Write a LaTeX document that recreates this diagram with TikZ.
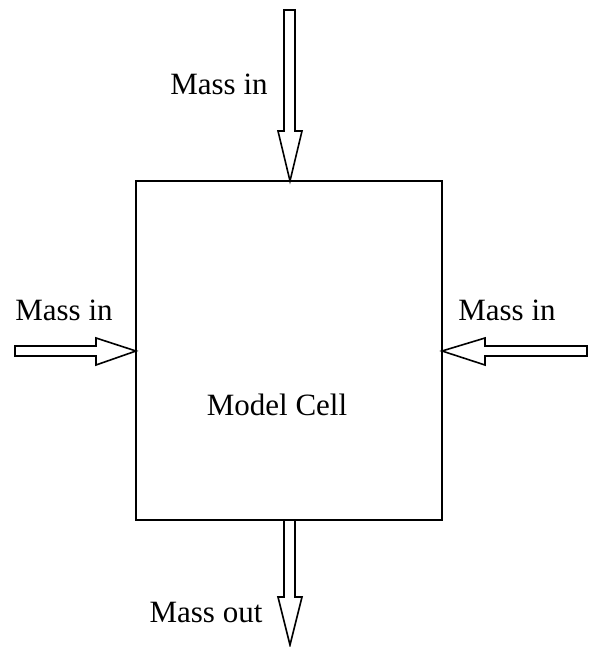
\documentclass[tikz,border=0pt]{standalone}
\usepackage{fontspec}
\setmainfont{Liberation Serif}
\usetikzlibrary{calc}
\begin{document}
\begin{tikzpicture}[x=0.5pt,y=-0.5pt,
  cellbox/.style={draw, line width=1pt, minimum width=153pt, minimum height=169.5pt, inner sep=0pt},
  fatarrow/.style={draw, line width=0.8pt, line join=miter, fill=white},
  lbl/.style={font=\fontsize{15.5}{18}\selectfont, anchor=base, inner sep=0pt}]
\useasboundingbox (0,0) rectangle (589,647);
\node[cellbox] (cell) at (289,350.5) {};
\node[lbl] (title) at (277,415) {Model Cell};
% top arrow
\coordinate (ttip) at (290,181);
\draw[fatarrow] (ttip) -- (278,131) -- (284,131) -- (284,10) -- (295,10) -- (295,131) -- (302,131) -- cycle;
\node[lbl] (tin) at (219,95) {Mass in};
% left arrow
\coordinate (ltip) at (136,351);
\draw[fatarrow] (ltip) -- (96,338) -- (96,346) -- (15,346) -- (15,356) -- (96,356) -- (96,365) -- cycle;
\node[lbl] (lin) at (64,320) {Mass in};
% right arrow
\coordinate (rtip) at (442,351);
\draw[fatarrow] (rtip) -- (485,338) -- (485,346) -- (587,346) -- (587,356) -- (485,356) -- (485,365) -- cycle;
\node[lbl] (rin) at (507,320) {Mass in};
% bottom arrow
\coordinate (btip) at (290,645);
\draw[fatarrow] (btip) -- (278,597) -- (284,597) -- (284,520) -- (295,520) -- (295,597) -- (302,597) -- cycle;
\node[lbl] (bout) at (206,622) {Mass out};
\end{tikzpicture}
\end{document}
